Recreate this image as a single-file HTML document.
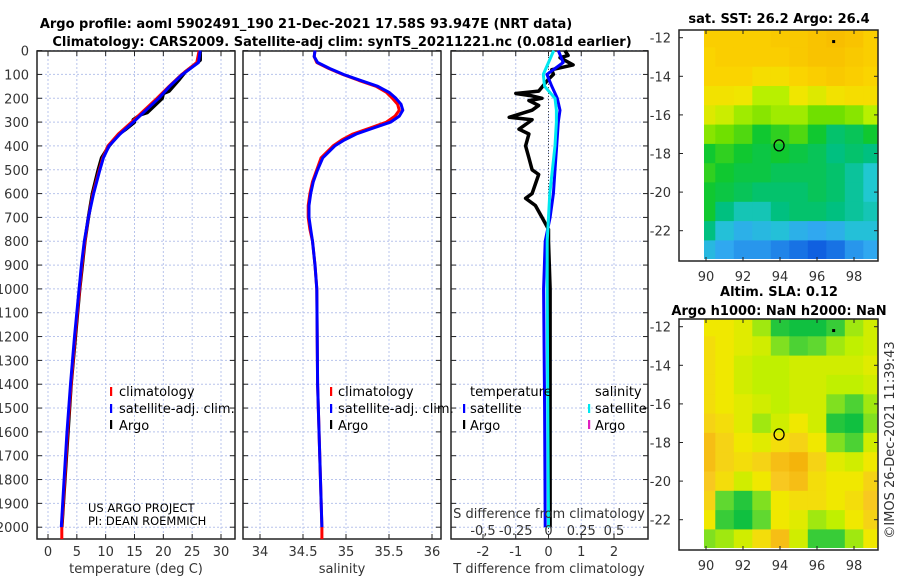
<!DOCTYPE html>
<html><head><meta charset="utf-8">
<style>
html,body{margin:0;padding:0;background:#fff;}
svg{display:block;font-family:"DejaVu Sans","Liberation Sans",sans-serif;}
.tk{font-size:13px;fill:#333;}
.tt{font-size:13px;font-weight:bold;fill:#000;}
.lg{font-size:13px;fill:#000;}
</style></head>
<body>
<svg id="fig" width="900" height="580" viewBox="0 0 900 580">
<g id="g-text">
<text class="tt" x="306" y="28" text-anchor="middle">Argo profile: aoml 5902491_190 21-Dec-2021 17.58S 93.947E (NRT data)</text>
<text class="tt" x="342" y="46" text-anchor="middle">Climatology: CARS2009. Satellite-adj clim: synTS_20211221.nc (0.081d earlier)</text>
<text class="tt" x="779" y="23" text-anchor="middle">sat. SST: 26.2 Argo: 26.4</text>
<text class="tt" x="779" y="296" text-anchor="middle">Altim. SLA: 0.12</text>
<text class="tt" x="779" y="315" text-anchor="middle">Argo h1000: NaN h2000: NaN</text>
<text class="tk" x="0" y="0" transform="translate(894,440) rotate(-90)" text-anchor="middle">©IMOS 26-Dec-2021 11:39:43</text>
</g>
</svg>
<script>
// ---------- data ----------
const depthT = [0,50,100,150,200,250,300,350,400,450,500,600,700,800,900,1000,1200,1400,1600,1800,2000,2050];
const tempClim = [26.2,25.8,23.2,21.0,18.9,16.7,14.5,12.2,10.4,9.5,8.9,7.8,7.0,6.4,5.9,5.5,4.7,4.0,3.4,2.9,2.4,2.4];
const tempSat = [26.4,26.1,23.3,21.1,19.2,17.0,14.8,12.5,10.6,9.6,9.0,7.9,7.0,6.3,5.8,5.4,4.6,3.9,3.3,2.8,2.3];
const depthArgo = [0,40,60,90,120,170,180,200,260,270,290,300,330,350,400,450,500,600,700,800,1000,1400,2000];
const tempArgo = [26.4,26.4,25.4,23.8,22.8,21.0,20.0,19.8,17.2,16.0,14.8,15.0,13.5,12.3,10.6,9.3,8.7,7.7,7.0,6.4,5.5,4.0,2.4];
const depthS = [0,25,50,75,100,125,150,175,200,225,250,275,300,325,350,375,400,450,500,550,600,650,700,750,800,900,1000,1400,2000,2050];
const salClim = [34.64,34.63,34.66,34.80,34.96,35.15,35.35,35.47,35.54,35.60,35.62,35.57,35.47,35.28,35.08,34.95,34.85,34.71,34.66,34.61,34.58,34.56,34.56,34.58,34.61,34.64,34.66,34.67,34.72,34.72];
const salSat = [34.64,34.63,34.67,34.81,34.97,35.17,35.37,35.50,35.58,35.64,35.66,35.62,35.52,35.32,35.12,34.98,34.87,34.73,34.67,34.62,34.59,34.57,34.57,34.59,34.61,34.64,34.66,34.67,34.72];
const depthD = [0,50,100,150,200,250,300,400,500,600,700,800,1000,1500,2000];
const tDiffSat = [0.3,0.45,-0.05,0.1,0.27,0.35,0.3,0.25,0.2,0.15,0.05,-0.1,-0.15,-0.12,-0.1];
const sDiffSat = [0.04,0.0,-0.04,-0.03,0.05,0.06,0.06,0.05,0.03,0.01,0.0,-0.01,-0.01,-0.005,0.0];
const depthDA = [0,20,30,60,80,100,120,170,180,190,200,210,230,250,280,290,300,330,350,400,450,500,520,560,600,620,650,700,750,800,1000,1500,2000];
const tDiffArgo = [0.5,0.6,0.35,0.75,0.1,0.15,0.0,-0.3,-1.0,-0.5,-0.2,-0.6,-0.3,-0.5,-1.2,-0.5,-0.6,-0.9,-0.6,-0.7,-0.6,-0.5,-0.3,-0.4,-0.5,-0.7,-0.4,-0.2,0.0,0.0,0.05,0.05,0.05];
const depthTicks = [0,100,200,300,400,500,600,700,800,900,1000,1100,1200,1300,1400,1500,1600,1700,1800,1900,2000];
const tempTicks = [0,5,10,15,20,25,30];
const salTicks = [34,34.5,35,35.5,36];
const tDiffTicks = [-2,-1,0,1,2];
const sDiffTicks = [-0.5,-0.25,0,0.25,0.5];
const sDiffLabels = ["-0,5","-0.25","0","0.25","0.5"];
const mapLonTicks = [90,92,94,96,98];
const mapLatTicks = [-12,-14,-16,-18,-20,-22];
const mapLons = [90,91,92,93,94,95,96,97,98,99];
const mapLats = [-12,-13,-14,-15,-16,-17,-18,-19,-20,-21,-22,-23];
const sstGrid = [
[27.1,27.1,27.1,27.1,27.2,27.2,27.3,27.4,27.3,27.1],
[27.0,27.1,27.1,27.1,27.1,27.2,27.3,27.3,27.2,27.1],
[27.0,27.0,27.0,26.8,26.8,27.0,27.1,27.2,27.1,27.0],
[26.7,26.7,26.6,26.3,26.3,26.6,26.5,26.7,26.8,26.8],
[26.5,26.4,26.2,26.1,26.2,26.2,26.0,26.0,26.1,26.3],
[26.1,26.0,25.9,25.7,25.8,25.9,25.7,25.4,25.5,25.7],
[25.7,25.8,25.7,25.6,25.7,25.6,25.5,25.3,25.4,25.3],
[25.8,25.7,25.6,25.6,25.5,25.5,25.5,25.4,25.2,25.0],
[25.7,25.6,25.5,25.4,25.4,25.4,25.5,25.4,25.2,25.0],
[25.7,25.3,25.1,25.1,25.3,25.4,25.4,25.3,25.2,25.1],
[25.3,24.9,24.7,24.8,24.9,24.7,24.6,24.7,24.9,24.9],
[24.8,24.6,24.5,24.5,24.4,24.3,24.2,24.3,24.5,24.6]];
const slaGrid = [
[.14,.14,.13,.10,.05,.03,.03,.06,.10,.12],
[.15,.14,.13,.12,.09,.07,.08,.10,.11,.12],
[.15,.14,.12,.11,.11,.12,.12,.12,.12,.13],
[.15,.14,.12,.11,.11,.12,.12,.11,.11,.12],
[.15,.14,.13,.12,.11,.12,.12,.09,.07,.10],
[.16,.15,.13,.10,.12,.14,.12,.05,.04,.09],
[.18,.16,.14,.13,.15,.16,.14,.09,.07,.12],
[.18,.16,.15,.16,.18,.19,.16,.13,.12,.14],
[.17,.15,.12,.14,.17,.18,.15,.14,.14,.16],
[.16,.08,.05,.09,.14,.15,.15,.14,.15,.17],
[.14,.06,.04,.08,.14,.13,.10,.11,.14,.16],
[.09,.10,.12,.15,.18,.12,.06,.06,.10,.14]];
const argoPos = [93.95,-17.58];
const otherPos = [96.9,-12.2];

// ---------- helpers ----------
const NS="http://www.w3.org/2000/svg";
const fig=document.getElementById('fig');
function mk(tag,attrs,parent){const e=document.createElementNS(NS,tag);for(const k in attrs)e.setAttribute(k,attrs[k]);(parent||fig).appendChild(e);return e;}
const yTop=51, yBot=539;
const yD=d=>50.6+d*0.2383;
function lin(d0,d1,r0,r1){return v=>r0+(v-d0)/(d1-d0)*(r1-r0);}

function panel(x0,x1,xs,ticks,name){
  const g=mk('g',{});
  
  
  ticks.forEach(t=>{const x=xs(t);
    const l=mk('line',{x1:x,x2:x,y1:yTop,y2:yBot,stroke:'#b8c4ec','stroke-width':1,'stroke-dasharray':'2,2'},g);
    
    mk('line',{x1:x,x2:x,y1:yBot,y2:yBot-5,stroke:'#222'},g);mk('line',{x1:x,x2:x,y1:yTop,y2:yTop+5,stroke:'#222'},g);});
  depthTicks.forEach(d=>{const y=yD(d);
    const l=mk('line',{x1:x0,x2:x1,y1:y,y2:y,stroke:'#b8c4ec','stroke-width':1,'stroke-dasharray':'2,2'},g);
    
    mk('line',{x1:x0,x2:x0+5,y1:y,y2:y,stroke:'#222'},g);mk('line',{x1:x1,x2:x1-5,y1:y,y2:y,stroke:'#222'},g);});
  const r=mk('rect',{x:x0,y:yTop,width:x1-x0,height:yBot-yTop,fill:'none',stroke:'#222','stroke-width':1.5},g);
  
  return g;
}
function line(xs,xv,dv,color,w,name,g){
  const pts=xv.map((v,i)=>xs(v).toFixed(1)+','+yD(dv[i]).toFixed(1)).join(' ');
  const p=mk('polyline',{points:pts,fill:'none',stroke:color,'stroke-width':w,'stroke-linejoin':'round'},g);
  
}
function txt(x,y,s,cls,anchor,name,g){const t=mk('text',{x:x,y:y,class:cls,'text-anchor':anchor||'start'},g);t.textContent=s;
  return t;}
function legendBar(x,y,color,name,g){const r=mk('rect',{x:x,y:y-10,width:2.2,height:9,fill:color},g);
  }

// depth labels
depthTicks.forEach(d=>txt(29,yD(d)+5,String(d),'tk','end','y-tick-label'));

// ---------- panel 1: temperature ----------
const xT=lin(0,30,48,221);
const g1=panel(37,235,xT,tempTicks,'temperature-panel');
line(xT,tempArgo,depthArgo,'#000',3.5,'temp-argo-line',g1);
line(xT,tempClim,depthT,'#f00',3,'temp-climatology-line',g1);
line(xT,tempSat,depthT.slice(0,tempSat.length),'#00f',3,'temp-satellite-line',g1);
tempTicks.forEach(t=>txt(xT(t),556,String(t),'tk','middle','x-tick-label',g1));
txt(136,573,'temperature (deg C)','tk','middle','x-axis-title',g1);
legendBar(110,397,'#f00','legend-climatology-swatch',g1);txt(119,396,'climatology','lg','start','legend-climatology',g1);
legendBar(110,414,'#00f','legend-satellite-swatch',g1);txt(119,413,'satellite-adj. clim.','lg','start','legend-satellite',g1);
legendBar(110,430,'#000','legend-argo-swatch',g1);txt(119,430,'Argo','lg','start','legend-argo',g1);
txt(88,512,'US ARGO PROJECT','lg','start','project-label',g1).setAttribute('style','font-size:11.5px');
txt(88,525,'PI: DEAN ROEMMICH','lg','start','pi-label',g1).setAttribute('style','font-size:11.5px');

// ---------- panel 2: salinity ----------
const xS=lin(34,36,260,432);
const g2=panel(243,441,xS,salTicks,'salinity-panel');
line(xS,salClim,depthS,'#f00',3,'sal-climatology-line',g2);
line(xS,salSat,depthS.slice(0,salSat.length),'#00f',3,'sal-satellite-line',g2);
salTicks.forEach(t=>txt(xS(t),556,String(t),'tk','middle','x-tick-label',g2));
txt(342,573,'salinity','tk','middle','x-axis-title',g2);
legendBar(330,397,'#f00','legend-climatology-swatch',g2);txt(338,396,'climatology','lg','start','legend-climatology',g2);
legendBar(330,414,'#00f','legend-satellite-swatch',g2);txt(338,413,'satellite-adj. clim.','lg','start','legend-satellite',g2);
legendBar(330,430,'#000','legend-argo-swatch',g2);txt(338,430,'Argo','lg','start','legend-argo',g2);

// ---------- panel 3: differences ----------
const xD=lin(-2,2,483,614);
const xSD=lin(-0.5,0.5,483,614);
const g3=panel(451,648,xD,tDiffTicks,'difference-panel');
const z=mk('line',{x1:xD(0),x2:xD(0),y1:yTop,y2:yBot,stroke:'#444','stroke-dasharray':'1,2'},g3);

line(xD,tDiffArgo,depthDA,'#000',3.5,'tdiff-argo-line',g3);
line(xD,tDiffSat,depthD,'#00f',3,'tdiff-satellite-line',g3);
line(xSD,sDiffSat,depthD,'#00e8f0',3,'sdiff-satellite-line',g3);
tDiffTicks.forEach(t=>txt(xD(t),556,String(t),'tk','middle','x-tick-label',g3));
sDiffTicks.forEach((t,i)=>txt(xSD(t),535,sDiffLabels[i],'tk','middle','s-tick-label',g3));
txt(549,518,'S difference from climatology','tk','middle','s-axis-title',g3);
txt(549,573,'T difference from climatology','tk','middle','x-axis-title',g3);
txt(470,396,'temperature','lg','start','legend-temperature-header',g3);
txt(595,396,'salinity','lg','start','legend-salinity-header',g3);
legendBar(463,414,'#00f','legend-tsat-swatch',g3);txt(470,413,'satellite','lg','start','legend-tsat',g3);
legendBar(463,430,'#000','legend-targo-swatch',g3);txt(470,430,'Argo','lg','start','legend-targo',g3);
legendBar(588,414,'#00e8f0','legend-ssat-swatch',g3);txt(595,413,'satellite','lg','start','legend-ssat',g3);
legendBar(588,430,'#e020c0','legend-sargo-swatch',g3);txt(595,430,'Argo','lg','start','legend-sargo',g3);

// ---------- maps ----------
function interp(stops,v){
  if(v<=stops[0][0])return stops[0][1];
  for(let i=1;i<stops.length;i++){if(v<=stops[i][0]){const a=stops[i-1],b=stops[i],f=(v-a[0])/(b[0]-a[0]);
    const c=a[1].map((x,k)=>Math.round(x+(b[1][k]-x)*f));return c;}}
  return stops[stops.length-1][1];
}
const sstStops=[[24.2,[16,96,224]],[24.6,[48,168,240]],[25.0,[32,200,208]],[25.3,[0,192,128]],[25.7,[16,200,48]],[26.0,[112,224,0]],[26.3,[184,240,0]],[26.6,[240,230,0]],[27.0,[250,212,0]],[27.5,[248,184,0]]];
const slaStops=[[0.04,[16,192,64]],[0.08,[96,216,48]],[0.11,[192,240,0]],[0.14,[240,232,0]],[0.17,[248,200,32]],[0.20,[242,170,0]]];
function drawMap(top,grid,stops,name){
  const bottom=top+231, yLat=lin(-12,-22,top+7.7,top+200.7), xLon=lin(90,98,706,854);
  const g=mk('g',{});
  
  const cp=mk('clipPath',{id:'cp'+top},g);mk('rect',{x:704,y:top,width:174,height:229},cp);
  const cells=mk('g',{'clip-path':'url(#cp'+top+')'},g);
  mapLats.forEach((la,i)=>mapLons.forEach((lo,j)=>{
    const c=interp(stops,grid[i][j]);
    const x=xLon(lo-0.5),y=yLat(la+0.5);
    const r=mk('rect',{x:x.toFixed(1),y:y.toFixed(1),width:(xLon(lo+0.5)-x+0.6).toFixed(1),height:(yLat(la-0.5)-y+0.6).toFixed(1),fill:'rgb('+c.join(',')+')'},cells);
    
  }));
  const fr=mk('rect',{x:679,y:top,width:199,height:bottom-top,fill:'none',stroke:'#222','stroke-width':1.5},g);
  
  mapLonTicks.forEach(t=>{const x=xLon(t);mk('line',{x1:x,x2:x,y1:bottom,y2:bottom-4,stroke:'#222'},g);mk('line',{x1:x,x2:x,y1:top,y2:top+4,stroke:'#222'},g);
    txt(x,bottom+20,String(t),'tk','middle','lon-tick-label',g);});
  mapLatTicks.forEach(t=>{const y=yLat(t);mk('line',{x1:679,x2:683,y1:y,y2:y,stroke:'#222'},g);mk('line',{x1:878,x2:874,y1:y,y2:y,stroke:'#222'},g);
    txt(671,y+5,String(t),'tk','end','lat-tick-label',g);});
  const c=mk('ellipse',{cx:xLon(argoPos[0]),cy:yLat(argoPos[1]),rx:5,ry:5.5,fill:'none',stroke:'#000','stroke-width':1.3},g);
  
  const d=mk('rect',{x:xLon(otherPos[0])-1.5,y:yLat(otherPos[1])-1.5,width:3,height:3,fill:'#000'},g);
  
}
drawMap(30,sstGrid,sstStops,'sst-map');
drawMap(319,slaGrid,slaStops,'sla-map');
fig.appendChild(document.getElementById('g-text'));
</script>
</body></html>
